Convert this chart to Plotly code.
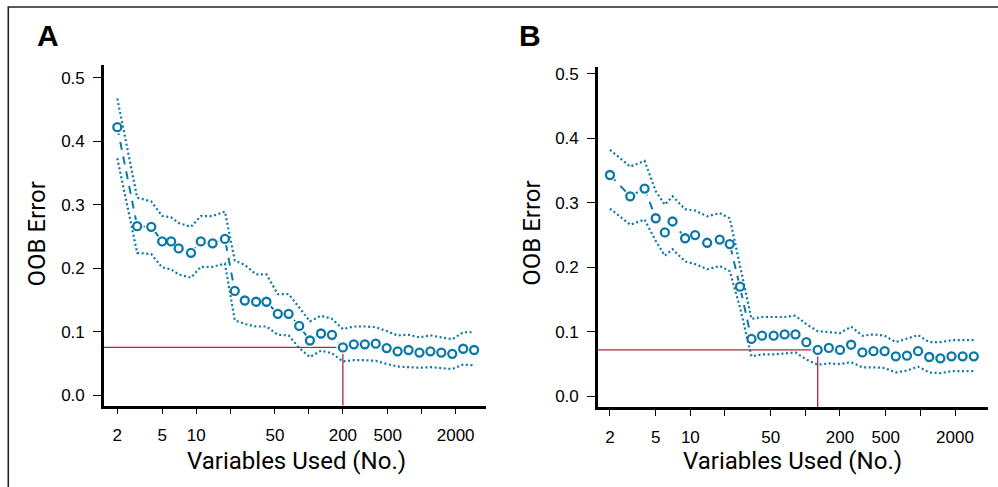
import plotly.graph_objects as go

# ---------------- data ----------------
n_vars = [2, 3, 4, 5, 6, 7, 9, 11, 14, 18, 22, 27, 34, 42, 53, 66, 82, 102, 128, 160,
          200, 250, 313, 391, 489, 611, 764, 955, 1194, 1492, 1865, 2331, 2914]

a_mean = [0.422, 0.266, 0.265, 0.242, 0.242, 0.231, 0.224, 0.242, 0.239, 0.246,
          0.164, 0.149, 0.147, 0.147, 0.128, 0.128, 0.109, 0.086, 0.097, 0.095,
          0.075, 0.080, 0.080, 0.081, 0.074, 0.069, 0.071, 0.067, 0.069, 0.067,
          0.065, 0.073, 0.071]
a_upper = [0.467, 0.311, 0.305, 0.282, 0.280, 0.271, 0.265, 0.282, 0.282, 0.289,
           0.212, 0.205, 0.190, 0.190, 0.159, 0.159, 0.138, 0.116, 0.125, 0.120,
           0.104, 0.108, 0.108, 0.107, 0.101, 0.094, 0.095, 0.091, 0.094, 0.091,
           0.088, 0.099, 0.099]
a_lower = [0.373, 0.224, 0.222, 0.201, 0.198, 0.190, 0.185, 0.202, 0.202, 0.207,
           0.118, 0.112, 0.108, 0.108, 0.095, 0.094, 0.074, 0.060, 0.070, 0.066,
           0.053, 0.055, 0.055, 0.054, 0.049, 0.045, 0.044, 0.043, 0.044, 0.043,
           0.041, 0.048, 0.047]
a_selected = 200

b_mean = [0.343, 0.310, 0.322, 0.276, 0.254, 0.271, 0.245, 0.250, 0.238, 0.243,
          0.236, 0.170, 0.089, 0.094, 0.094, 0.096, 0.096, 0.084, 0.072, 0.075,
          0.072, 0.080, 0.068, 0.070, 0.070, 0.062, 0.063, 0.070, 0.061, 0.059,
          0.062, 0.062, 0.062]
b_upper = [0.382, 0.356, 0.365, 0.318, 0.297, 0.310, 0.290, 0.288, 0.279, 0.284,
           0.276, 0.200, 0.120, 0.123, 0.123, 0.123, 0.125, 0.112, 0.101, 0.099,
           0.098, 0.108, 0.094, 0.096, 0.094, 0.084, 0.089, 0.095, 0.084, 0.084,
           0.087, 0.087, 0.087]
b_lower = [0.291, 0.266, 0.274, 0.241, 0.218, 0.228, 0.209, 0.205, 0.197, 0.202,
           0.194, 0.138, 0.062, 0.065, 0.065, 0.067, 0.068, 0.057, 0.049, 0.051,
           0.050, 0.053, 0.045, 0.045, 0.044, 0.037, 0.040, 0.046, 0.037, 0.036,
           0.039, 0.039, 0.039]
b_selected = 128

x_tickvals = [2, 5, 10, 20, 50, 100, 200, 500, 1000, 2000]
x_ticktext = ["2", "5", "10", "", "50", "", "200", "500", "", "2000"]
y_tickvals = [0.0, 0.1, 0.2, 0.3, 0.4, 0.5]
panel_labels = ["A", "B"]
x_title = "Variables Used (No.)"
y_title = "OOB Error"

# ---------------- style ----------------
W, H = 998, 487
BLUE = "#0b78a8"
RED = "#b3283f"
TICK_FONT = dict(family="Liberation Sans, Arial, sans-serif", size=17, color="black")
TITLE_FONT = dict(family="Roboto, Liberation Sans, sans-serif", size=24, color="black")

panels = [
    dict(mean=a_mean, up=a_upper, lo=a_lower, sel=a_selected,
         xdom=(104, 486), ydom=(63, 405.3), xr=(0.183, 3.570), yr=(-0.0166, 0.5203),
         label_xy=(35, 34), xt=(296, 461), yt=(37.5, 233)),
    dict(mean=b_mean, up=b_upper, lo=b_lower, sel=b_selected,
         xdom=(598, 988), ydom=(65, 407), xr=(0.197, 3.588), yr=(-0.017, 0.5108),
         label_xy=(517, 34), xt=(792.5, 461), yt=(531.7, 232)),
]

fig = go.Figure()
layout = dict(width=W, height=H, margin=dict(l=0, r=0, t=0, b=0),
              paper_bgcolor="white", plot_bgcolor="white", showlegend=False,
              annotations=[], shapes=[])

for i, p in enumerate(panels):
    sfx = "" if i == 0 else str(i + 1)
    xa, ya = "x" + sfx, "y" + sfx
    sel_idx = n_vars.index(p["sel"])
    sel_err = p["mean"][sel_idx]
    xmin = 10 ** p["xr"][0]
    ymin = p["yr"][0]
    # selection guide lines
    fig.add_trace(go.Scatter(x=[xmin, p["sel"], p["sel"]], y=[sel_err, sel_err, ymin],
                             mode="lines", line=dict(color=RED, width=1.3),
                             xaxis=xa, yaxis=ya, hoverinfo="skip"))
    # mean dashed line
    fig.add_trace(go.Scatter(x=n_vars, y=p["mean"], mode="lines",
                             line=dict(color=BLUE, width=2, dash="8px,7px"),
                             xaxis=xa, yaxis=ya, hoverinfo="skip"))
    # gaps around points (type="b" look)
    fig.add_trace(go.Scatter(x=n_vars, y=p["mean"], mode="markers",
                             marker=dict(symbol="circle", size=13, color="white",
                                         line=dict(width=0)),
                             xaxis=xa, yaxis=ya, hoverinfo="skip"))
    # open circles
    fig.add_trace(go.Scatter(x=n_vars, y=p["mean"], mode="markers",
                             marker=dict(symbol="circle-open", size=8, color=BLUE,
                                         line=dict(width=2.3, color=BLUE)),
                             xaxis=xa, yaxis=ya))
    # confidence bands (dotted)
    for band in (p["up"], p["lo"]):
        fig.add_trace(go.Scatter(x=n_vars, y=band, mode="lines",
                                 line=dict(color=BLUE, width=2.2, dash="2px,2.6px"),
                                 xaxis=xa, yaxis=ya, hoverinfo="skip"))

    axis_common = dict(showgrid=False, zeroline=False, showline=True, linecolor="black",
                       linewidth=2.6, ticks="outside", tickcolor="black", tickwidth=1.3,
                       tickfont=TICK_FONT)
    layout["xaxis" + sfx] = dict(axis_common, type="log", range=list(p["xr"]),
                                 domain=[p["xdom"][0] / W, p["xdom"][1] / W],
                                 anchor=ya, tickvals=x_tickvals, ticktext=x_ticktext,
                                 ticklen=6, ticklabelstandoff=6)
    layout["yaxis" + sfx] = dict(axis_common, range=list(p["yr"]),
                                 domain=[1 - p["ydom"][1] / H, 1 - p["ydom"][0] / H],
                                 anchor=xa, tickvals=y_tickvals, tickformat=".1f",
                                 ticklen=8, ticklabelstandoff=5)
    layout["annotations"] += [
        dict(text="<b>%s</b>" % panel_labels[i], x=p["label_xy"][0] / W,
             y=1 - p["label_xy"][1] / H, xref="paper", yref="paper",
             xanchor="left", yanchor="middle", showarrow=False,
             font=dict(family="Liberation Sans, Arial, sans-serif", size=30, color="black")),
        dict(text=x_title, x=p["xt"][0] / W, y=1 - p["xt"][1] / H, xref="paper",
             yref="paper", xanchor="center", yanchor="middle", showarrow=False,
             font=TITLE_FONT),
        dict(text=y_title, x=p["yt"][0] / W, y=1 - p["yt"][1] / H, xref="paper",
             yref="paper", xanchor="center", yanchor="middle", textangle=-90,
             showarrow=False, font=TITLE_FONT),
    ]

# outer frame (top and left edges visible)
layout["shapes"].append(dict(type="rect", xref="paper", yref="paper",
                             x0=8.3 / W, x1=1.2, y0=-0.2, y1=1 - 5 / H,
                             line=dict(color="#222222", width=1.6)))

fig.update_layout(**layout)
fig.write_html("out.html", config={"displayModeBar": False},
               post_script="document.body.style.margin='0';document.body.style.overflow='hidden';")
